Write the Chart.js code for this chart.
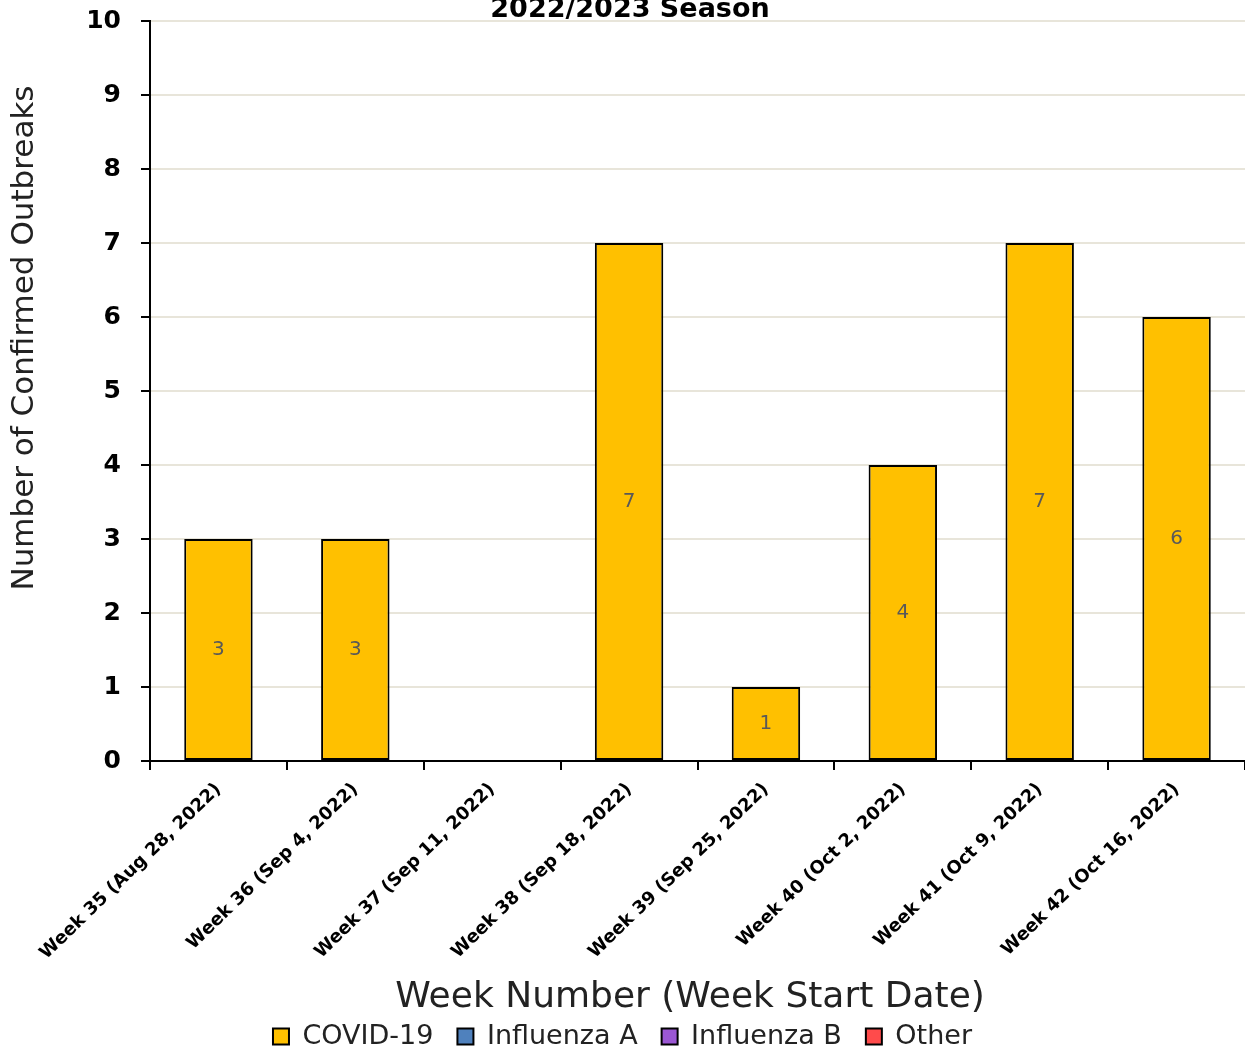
<!DOCTYPE html>
<html>
<head>
<meta charset="utf-8">
<script src="https://cdn.jsdelivr.net/npm/chart.js@4.4.0/dist/chart.umd.min.js"></script>
<style>
html,body{margin:0;padding:0;background:#fff;}
#wrap{width:1245px;height:1049px;position:relative;}
</style>
</head>
<body>
<div id="wrap"><canvas id="c" width="1245" height="1049"></canvas></div>
<script>
const categories = [
  "Week 35 (Aug 28, 2022)",
  "Week 36 (Sep 4, 2022)",
  "Week 37 (Sep 11, 2022)",
  "Week 38 (Sep 18, 2022)",
  "Week 39 (Sep 25, 2022)",
  "Week 40 (Oct 2, 2022)",
  "Week 41 (Oct 9, 2022)",
  "Week 42 (Oct 16, 2022)"
];
const covid19 = [3, 3, 0, 7, 1, 4, 7, 6];
const influenzaA = [0, 0, 0, 0, 0, 0, 0, 0];
const influenzaB = [0, 0, 0, 0, 0, 0, 0, 0];
const other = [0, 0, 0, 0, 0, 0, 0, 0];
const yMin = 0, yMax = 10, yStep = 1;
const chartTitle = "2022/2023 Season";
const yTitle = "Number of Confirmed Outbreaks";
const xTitle = "Week Number (Week Start Date)";

const FONT = "'DejaVu Sans', sans-serif";

const labelPlugin = {
  id: 'barLabels',
  afterDatasetsDraw(chart) {
    const ctx = chart.ctx;
    const meta = chart.getDatasetMeta(0);
    ctx.save();
    ctx.font = "20px " + FONT;
    ctx.fillStyle = "#595959";
    ctx.textAlign = "center";
    ctx.textBaseline = "middle";
    meta.data.forEach((el, i) => {
      const v = chart.data.datasets[0].data[i];
      if (v > 0) {
        ctx.fillText(String(v), el.x, (el.y + el.base) / 2);
      }
    });
    ctx.restore();
  }
};

const textPlugin = {
  id: 'extraText',
  afterDraw(chart) {
    const ctx = chart.ctx;
    ctx.save();
    ctx.fillStyle = "#000";
    ctx.font = "bold 27px " + FONT;
    ctx.textAlign = "center";
    ctx.textBaseline = "alphabetic";
    ctx.fillText(chartTitle, 630, 17);

    ctx.font = "36px " + FONT;
    ctx.fillStyle = "#222";
    ctx.textBaseline = "middle";
    ctx.fillText(xTitle, 690, 998);

    ctx.translate(25, 338);
    ctx.rotate(-Math.PI / 2);
    ctx.font = "31px " + FONT;
    ctx.fillStyle = "#222";
    ctx.textBaseline = "middle";
    ctx.fillText(yTitle, 0, 0);
    ctx.restore();
  }
};

const zeroBorder = (c) => (c.raw > 0 ? 2 : 0);

new Chart(document.getElementById('c'), {
  type: 'bar',
  data: {
    labels: categories,
    datasets: [
      { label: 'COVID-19', data: covid19, backgroundColor: '#FFC000', borderColor: '#000', borderWidth: zeroBorder, borderSkipped: false },
      { label: 'Influenza A', data: influenzaA, backgroundColor: '#4F81BD', borderColor: '#000', borderWidth: zeroBorder, borderSkipped: false },
      { label: 'Influenza B', data: influenzaB, backgroundColor: '#9B57D3', borderColor: '#000', borderWidth: zeroBorder, borderSkipped: false },
      { label: 'Other', data: other, backgroundColor: '#FF4B4B', borderColor: '#000', borderWidth: zeroBorder, borderSkipped: false }
    ]
  },
  options: {
    responsive: false,
    animation: false,
    devicePixelRatio: 1,
    layout: { padding: { top: 21, right: 0, left: 0, bottom: -11 } },
    datasets: { bar: { categoryPercentage: 0.5, barPercentage: 1.0 } },
    plugins: {
      title: { display: false },
      tooltip: { enabled: false },
      legend: {
        position: 'bottom',
        labels: {
          font: { family: FONT, size: 27 },
          color: '#222',
          boxWidth: 16,
          boxHeight: 16,
          padding: 24,
          generateLabels(chart) {
            const items = Chart.defaults.plugins.legend.labels.generateLabels(chart);
            items.forEach(it => { it.lineWidth = 2; it.strokeStyle = '#000'; });
            return items;
          }
        }
      }
    },
    scales: {
      x: {
        stacked: true,
        offset: true,
        grid: { display: true, offset: true, drawOnChartArea: false, color: '#000', lineWidth: 2, tickLength: 9 },
        border: { display: true, color: '#000', width: 2 },
        ticks: {
          font: { family: FONT, size: 18, weight: 'bold' },
          color: '#000',
          minRotation: 44,
          maxRotation: 44,
          autoSkip: false,
          padding: 9
        },
        title: { display: false },
        afterFit(scale) { scale.height = 238; }
      },
      y: {
        stacked: true,
        min: yMin,
        max: yMax,
        ticks: {
          stepSize: yStep,
          font: { family: FONT, size: 25, weight: 'bold' },
          color: '#000',
          padding: 20
        },
        grid: { color: '#E8E5DA', lineWidth: 2, tickColor: '#000', tickLength: 9 },
        border: { display: true, color: '#000', width: 2 },
        afterFit(scale) { scale.width = 150; scale.paddingTop = 0; scale.paddingBottom = 0; }
      }
    }
  },
  plugins: [labelPlugin, textPlugin]
});
</script>
</body>
</html>
